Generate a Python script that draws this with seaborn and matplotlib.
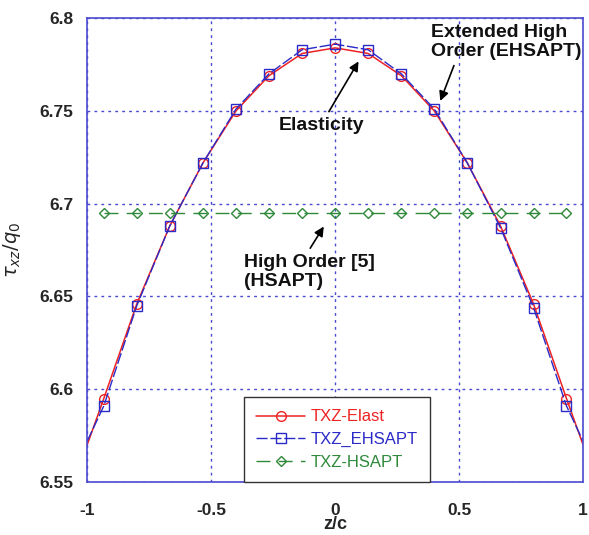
import numpy as np
import pandas as pd
import matplotlib
matplotlib.use("Agg")
import matplotlib.pyplot as plt
import seaborn as sns

# Data
z = [-1.0, -0.933, -0.8, -0.667, -0.533, -0.4, -0.267, -0.133, 0.0,
     0.133, 0.267, 0.4, 0.533, 0.667, 0.8, 0.933, 1.0]
elast = [6.570, 6.595, 6.646, 6.688, 6.722, 6.750, 6.769, 6.781, 6.784,
         6.781, 6.769, 6.750, 6.722, 6.688, 6.646, 6.595, 6.570]
ehsapt = [6.572, 6.591, 6.645, 6.688, 6.722, 6.751, 6.770, 6.783, 6.786,
          6.783, 6.770, 6.751, 6.722, 6.687, 6.644, 6.591, 6.572]
z_hsapt = [-0.933, -0.8, -0.667, -0.533, -0.4, -0.267, -0.133, 0.0,
           0.133, 0.267, 0.4, 0.533, 0.667, 0.8, 0.933]
hsapt = [6.695] * len(z_hsapt)

x_ticks = [-1, -0.5, 0, 0.5, 1]
x_ticklabels = ["-1", "-0.5", "0", "0.5", "1"]
y_ticks = [6.55, 6.6, 6.65, 6.7, 6.75, 6.8]
y_ticklabels = ["6.55", "6.6", "6.65", "6.7", "6.75", "6.8"]

sns.set_style("white")
plt.rcParams['font.family'] = ['Liberation Sans', 'DejaVu Sans']

red = '#ee2222'
blue = '#2a2ac8'
green = '#2e8a3a'
frame = '#4a4ad0'

fig = plt.figure(figsize=(5.89, 5.35), dpi=100)
ax = fig.add_axes([0.148, 0.099, 0.842, 0.867])

df_el = pd.DataFrame({'z': z, 'tau': elast})
df_eh = pd.DataFrame({'z': z, 'tau': ehsapt})
df_hs = pd.DataFrame({'z': z_hsapt, 'tau': hsapt})

sns.lineplot(data=df_el, x='z', y='tau', ax=ax, color=red, lw=1.1,
             marker='o', markersize=7, mfc='none', mec=red, mew=1.0,
             markevery=slice(1, -1), label='TXZ-Elast')
sns.lineplot(data=df_eh, x='z', y='tau', ax=ax, color=blue, lw=1.0,
             linestyle=(0, (8, 2)), marker='s', markersize=7, mfc='none',
             mec=blue, mew=1.0, markevery=slice(1, -1), label='TXZ_EHSAPT')
sns.lineplot(data=df_hs, x='z', y='tau', ax=ax, color=green, lw=1.0,
             linestyle=(0, (10, 6)), marker='D', markersize=5.5, mfc='none',
             mec=green, mew=1.0, label='TXZ-HSAPT')

ax.set_xlim(-1, 1)
ax.set_ylim(6.55, 6.8)
ax.set_xticks(x_ticks)
ax.set_xticklabels(x_ticklabels, fontsize=12.5, fontweight='bold')
ax.set_yticks(y_ticks)
ax.set_yticklabels(y_ticklabels, fontsize=12.5, fontweight='bold')
ax.tick_params(axis='y', length=0, pad=10)
ax.tick_params(axis='x', length=0, pad=15)
ax.grid(True, color=frame, linestyle=(0, (2, 3)), lw=1.0)
for s in ax.spines.values():
    s.set_color(frame)
    s.set_linewidth(1.2)

ax.set_xlabel('z/c', fontsize=13, fontweight='bold', labelpad=-1)
ax.set_ylabel(r'$\tau_{xz}/q_0$', fontsize=14, labelpad=12)

leg = ax.legend(loc='lower left', bbox_to_anchor=(0.316, 0.0), borderaxespad=0,
                fancybox=False, edgecolor='#333333', framealpha=1,
                fontsize=12, handlelength=2.9, handletextpad=0.35,
                labelspacing=0.45, borderpad=0.75)
leg.get_frame().set_linewidth(1.0)
for t, c in zip(leg.get_texts(), [red, blue, green]):
    t.set_color(c)

kw = dict(fontsize=14, fontweight='bold', color='#111111', linespacing=1.15)
arr = dict(arrowstyle='-|>', color='black', lw=1.2, mutation_scale=14)
ax.annotate('Extended High\nOrder (EHSAPT)', xy=(0.42, 6.754), xytext=(0.385, 6.797),
            ha='left', va='top', arrowprops=dict(arr, relpos=(0.17, 0)), **kw)
ax.annotate('Elasticity', xy=(0.1, 6.778), xytext=(-0.056, 6.742),
            ha='center', va='center', arrowprops=dict(arr, relpos=(0.55, 1)), **kw)
ax.annotate('High Order [5]\n(HSAPT)', xy=(-0.04, 6.689), xytext=(-0.368, 6.673),
            ha='left', va='top', arrowprops=dict(arr, relpos=(0.48, 1)), **kw)

fig.savefig('out.png', dpi=100)
